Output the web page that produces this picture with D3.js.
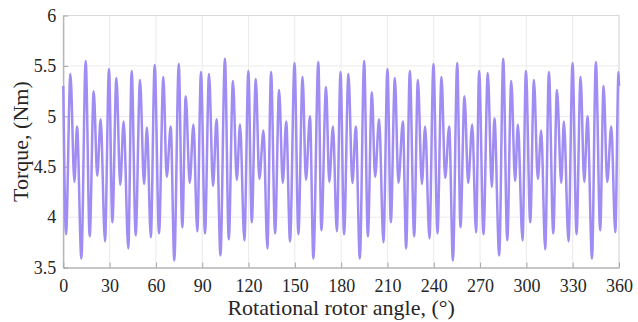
<!DOCTYPE html>
<html><head><meta charset="utf-8">
<script src="https://cdn.jsdelivr.net/npm/d3@7"></script>
<style>body{margin:0;background:#fff}svg{display:block}</style>
</head><body><svg id="c" width="638" height="322"></svg>
<script>
const xTicks = [0,30,60,90,120,150,180,210,240,270,300,330,360];
const yTicks = [3.5,4,4.5,5,5.5,6];
const xLabel = "Rotational rotor angle, (°)";
const yLabel = "Torque, (Nm)";
const angle = [0,1.75,4.6,7.2,8.9,11.7,14.5,17.1,19.7,22.0,24.2,27.0,29.6,31.8,34.4,36.9,39.1,42.1,44.3,46.9,49.7,52.3,54.2,56.7,59.2,62.0,64.8,67.0,69.6,71.9,74.8,77.1,79.3,81.9,84.3,86.8,89.2,91.8,94.4,97.0,99.3,101.8,104.7,107.2,109.9,112.4,114.5,117.3,119.9,122.1,124.7,127.0,129.7,132.2,134.6,137.2,139.8,142.2,144.4,146.9,149.8,152.3,155.0,157.2,159.8,162.0,165.2,167.2,170.2,172.3,174.7,177.2,179.6,181.9,184.7,187.3,189.5,192.1,194.9,197.3,199.9,202.0,204.6,207.4,210.0,212.2,214.8,217.1,220.0,222.1,224.5,227.3,229.7,232.3,234.4,237.2,239.8,242.4,245.0,247.4,250.0,252.4,255.2,257.3,259.9,262.3,264.9,267.4,269.4,272.2,275.0,277.6,279.3,282.4,285.0,287.6,290.2,292.7,294.5,297.5,299.7,302.5,304.9,307.4,309.6,312.2,314.6,317.4,319.8,322.6,324.3,327.3,329.9,332.5,335.1,337.5,339.6,342.5,345.0,347.8,350.0,352.4,355.0,357.6,359.7,360];
const torque = [5.30,3.83,5.42,4.35,4.90,3.59,5.55,3.81,5.25,4.41,4.97,3.76,5.47,3.95,5.38,4.32,4.95,3.69,5.45,3.82,5.36,4.33,4.89,3.80,5.51,3.84,5.39,4.40,4.90,3.57,5.52,3.90,5.20,4.34,4.92,3.86,5.44,3.84,5.42,4.31,4.97,3.62,5.57,3.78,5.35,4.37,4.92,3.77,5.45,3.95,5.37,4.38,4.86,3.69,5.44,3.84,5.26,4.34,4.95,3.76,5.53,3.83,5.39,4.37,5.00,3.59,5.54,3.87,5.29,4.35,4.90,3.86,5.44,3.83,5.42,4.34,4.90,3.59,5.55,3.81,5.24,4.40,4.97,3.75,5.47,3.95,5.38,4.34,4.95,3.69,5.45,3.81,5.36,4.33,4.90,3.79,5.52,3.84,5.39,4.39,4.90,3.57,5.53,3.90,5.20,4.34,4.92,3.85,5.45,3.83,5.43,4.30,4.98,3.62,5.57,3.77,5.35,4.36,4.92,3.77,5.45,3.95,5.36,4.38,4.86,3.68,5.44,3.84,5.26,4.34,4.95,3.76,5.53,3.83,5.39,4.35,5.00,3.59,5.54,3.87,5.30,4.35,4.90,3.85,5.44,5.30];

const svg = d3.select("#c");
const L = 63.3, R = 619, T = 15.5, B = 267.6;
const x = d3.scaleLinear().domain([0,360]).range([L,R]);
const y = d3.scaleLinear().domain([3.5,6]).range([B,T]);
const font = "'Liberation Serif','Times New Roman',serif";
const axisCol = "#a6a6a6";

// grid
svg.append("g").selectAll("line").data(xTicks).join("line")
  .attr("x1",d=>x(d)).attr("x2",d=>x(d)).attr("y1",T).attr("y2",B)
  .attr("stroke","#ebebeb").attr("stroke-width",1);
svg.append("g").selectAll("line").data(yTicks).join("line")
  .attr("x1",L).attr("x2",R).attr("y1",d=>y(d)).attr("y2",d=>y(d))
  .attr("stroke","#ebebeb").attr("stroke-width",1);

// box
svg.append("rect").attr("x",L).attr("y",T).attr("width",R-L).attr("height",B-T)
  .attr("fill","none").attr("stroke","#d9d9d9").attr("stroke-width",1);

// axes
const xa = svg.append("g").attr("transform",`translate(0,${B})`)
  .call(d3.axisBottom(x).tickValues(xTicks).tickSizeInner(-5).tickSizeOuter(0).tickPadding(12).tickFormat(d3.format("d")));
const ya = svg.append("g").attr("transform",`translate(${L},0)`)
  .call(d3.axisLeft(y).tickValues(yTicks).tickSizeInner(-5).tickSizeOuter(0).tickPadding(7).tickFormat(d=>String(d)));
[xa,ya].forEach(a=>{
  a.select(".domain").attr("stroke",axisCol);
  a.selectAll(".tick line").attr("stroke",axisCol);
  a.selectAll(".tick text").attr("fill","#262626").style("font-family",font).style("font-size","18px");
});

// line
const line = d3.line().x((d,i)=>x(angle[i])).y(d=>y(d)).curve(d3.curveMonotoneX);
svg.append("path").datum(torque).attr("d",line)
  .attr("fill","none").attr("stroke","#a08cf2").attr("stroke-width",2.5).attr("stroke-linejoin","round");

// labels
svg.append("text").attr("x",(L+R)/2).attr("y",315).attr("text-anchor","middle")
  .style("font-family",font).style("font-size","22px").attr("fill","#262626").text(xLabel);
svg.append("text").attr("transform",`translate(28,${(T+B)/2}) rotate(-90)`).attr("text-anchor","middle")
  .style("font-family",font).style("font-size","22px").attr("fill","#262626").text(yLabel);
</script></body></html>
